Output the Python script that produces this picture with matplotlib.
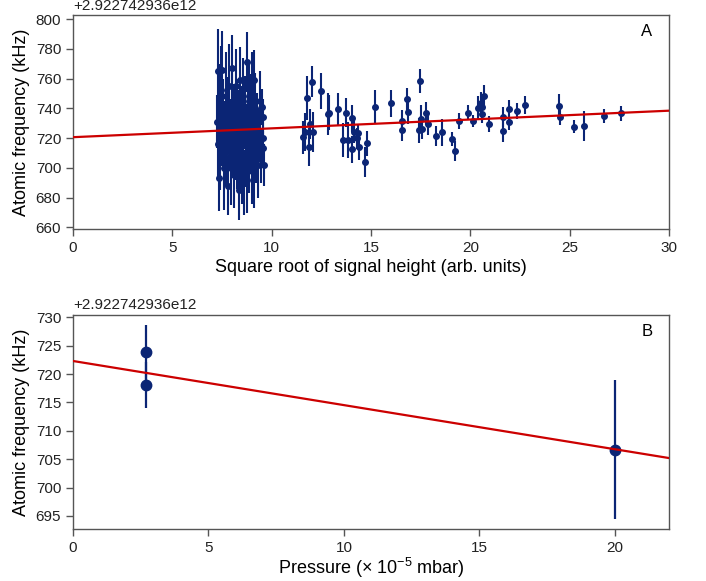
import matplotlib
matplotlib.use("Agg")
import matplotlib.pyplot as plt
import numpy as np

plt.rcParams['font.family'] = ['Liberation Sans', 'DejaVu Sans']
plt.rcParams['mathtext.fontset'] = 'custom'
plt.rcParams['mathtext.rm'] = 'Liberation Sans'
plt.rcParams['mathtext.it'] = 'Liberation Sans:italic'

OFFSET_TEXT = "+2.922742936e12"

# ---- Panel A data: sqrt(signal height) vs atomic frequency (kHz, minus offset)
sqrt_height = [7.25, 7.30, 7.32, 7.35, 7.38, 7.40, 7.45, 7.50, 7.52, 7.55, 7.60, 7.65, 7.70, 7.72,
               7.78, 7.82, 7.85, 7.90, 7.95, 7.99, 8.02, 8.05, 8.10, 8.12, 8.18, 8.20, 8.25, 8.28,
               8.32, 8.35, 8.40, 8.42, 8.48, 8.50, 8.55, 8.58, 8.62, 8.65, 8.70, 8.74, 8.76, 8.80,
               8.85, 8.88, 8.92, 8.95, 9.00, 9.02, 9.06, 9.10, 9.12, 9.15, 9.20, 9.25, 9.30, 9.35,
               9.40, 9.45, 9.52, 9.55, 9.57, 9.58, 9.60,
               11.59, 11.66, 11.79, 11.89, 11.93, 12.04, 12.08, 12.47, 12.82, 12.90, 13.34, 13.60,
               13.74, 13.86, 14.04, 14.04, 14.16, 14.28, 14.34, 14.41, 14.68, 14.81, 15.18, 16.00,
               16.57, 16.57, 16.82, 16.87, 17.46, 17.41, 17.51, 17.58, 17.75, 17.88, 18.28, 18.56,
               19.07, 19.22, 19.43, 19.90, 20.15, 20.40, 20.53, 20.57, 20.60, 20.68, 20.95, 21.66,
               21.66, 21.94, 21.94, 22.35, 22.75, 24.44, 24.52, 25.20, 25.72, 26.71, 27.60]
freq_khz = [731, 765, 716, 693, 745, 705, 752, 766, 725, 738, 700, 719, 748, 710,
            688, 735, 755, 722, 700, 767, 742, 715, 730, 695, 755, 720, 708, 740,
            728, 685, 759, 712, 733, 700, 748, 722, 690, 738, 715, 771, 692, 728,
            745, 705, 735, 718, 752, 698, 725, 759, 695, 740, 712, 730, 702, 722,
            745, 708, 741, 734, 720, 713, 702,
            720.5, 723.9, 747.1, 714.2, 729.4, 757.9, 723.9, 751.8, 736.0, 737.0, 739.3, 718.7,
            737.0, 718.7, 733.3, 712.4, 724.3, 719.8, 723.6, 713.8, 703.7, 716.5, 741.1, 743.4,
            731.5, 725.4, 746.2, 737.3, 758.3, 725.4, 732.6, 726.1, 736.6, 729.2, 721.4, 723.9,
            719.4, 711.5, 731.5, 737.0, 731.5, 740.4, 743.3, 741.1, 736.0, 748.3, 729.2, 734.3,
            724.7, 739.3, 730.6, 738.2, 742.0, 741.5, 734.0, 727.6, 728.3, 735.0, 736.6]
freq_err = [18, 28, 22, 22, 25, 20, 30, 26, 24, 22, 28, 26, 30, 22,
            20, 26, 28, 24, 25, 22, 24, 20, 26, 22, 25, 28, 22, 20,
            24, 20, 22, 26, 22, 24, 26, 20, 22, 24, 28, 20, 22, 26,
            24, 22, 28, 22, 26, 22, 24, 20, 22, 24, 22, 20, 22, 18,
            20, 18, 12, 12, 14, 12, 14,
            11.2, 12.8, 14.8, 12.8, 10.0, 10.5, 13.4, 12.0, 14.0, 11.7, 11.2, 11.7,
            9.6, 12.3, 9.0, 9.0, 7.4, 7.2, 6.0, 8.4, 10.0, 8.4, 11.2, 9.0,
            7.3, 7.3, 7.3, 7.8, 8.0, 8.4, 9.5, 7.0, 7.8, 7.3, 6.7, 9.0,
            5.0, 6.7, 5.6, 5.0, 4.0, 7.8, 7.5, 6.0, 6.0, 7.3, 5.4, 6.7,
            7.6, 6.5, 5.0, 5.4, 6.0, 8.4, 5.4, 4.5, 10.0, 4.8, 4.8]
fitA_x = [0, 30]
fitA_y = [720.6, 738.4]

# ---- Panel B data: pressure vs atomic frequency
pressure = [2.71, 2.71, 20.0]
freq_b = [723.8, 718.1, 706.7]
err_b = [4.8, 4.1, 12.3]
fitB_x = [0, 22]
fitB_y = [722.3, 705.2]

navy = '#0b2575'
red = '#cc0000'
spine_col = '#555555'

fig = plt.figure(figsize=(7.06, 5.81), dpi=100)
axA = fig.add_axes([0.1034, 0.6053, 0.8442, 0.3684])
axB = fig.add_axes([0.1034, 0.0895, 0.8442, 0.3683])

axA.errorbar(sqrt_height, freq_khz, yerr=freq_err, fmt='o', color=navy, ecolor=navy,
             markersize=4, elinewidth=1.5, capsize=0, zorder=2)
axA.plot(fitA_x, fitA_y, color=red, lw=1.6, zorder=3)
axA.set_xlim(0, 30)
axA.set_ylim(658.7, 802.5)
axA.set_xticks([0, 5, 10, 15, 20, 25, 30])
axA.set_yticks(np.arange(660, 801, 20))
axA.set_xlabel("Square root of signal height (arb. units)", fontsize=13, labelpad=3)
axA.set_ylabel("Atomic frequency (kHz)", fontsize=13)
axA.text(0.963, 0.925, "A", transform=axA.transAxes, fontsize=12, ha='center', va='center')

axB.errorbar(pressure, freq_b, yerr=err_b, fmt='o', color=navy, ecolor=navy,
             markersize=7.5, elinewidth=1.6, capsize=0, zorder=2)
axB.plot(fitB_x, fitB_y, color=red, lw=1.6, zorder=3)
axB.set_xlim(0, 22)
axB.set_ylim(692.7, 730.4)
axB.set_xticks([0, 5, 10, 15, 20])
axB.set_yticks(np.arange(695, 731, 5))
axB.set_xlabel(r"Pressure ($\times$ 10$^{-5}$ mbar)", fontsize=13, labelpad=1)
axB.set_ylabel("Atomic frequency (kHz)", fontsize=13)
axB.text(0.963, 0.925, "B", transform=axB.transAxes, fontsize=12, ha='center', va='center')

for ax in (axA, axB):
    for s in ax.spines.values():
        s.set_color(spine_col)
        s.set_linewidth(1.0)
    ax.tick_params(direction='out', length=5, width=1, color=spine_col,
                   labelsize=11, labelcolor='#222222')
    ax.text(0.0, 1.012, OFFSET_TEXT, transform=ax.transAxes, fontsize=11,
            ha='left', va='bottom', color='#222222')

fig.savefig("out.png", dpi=100)
